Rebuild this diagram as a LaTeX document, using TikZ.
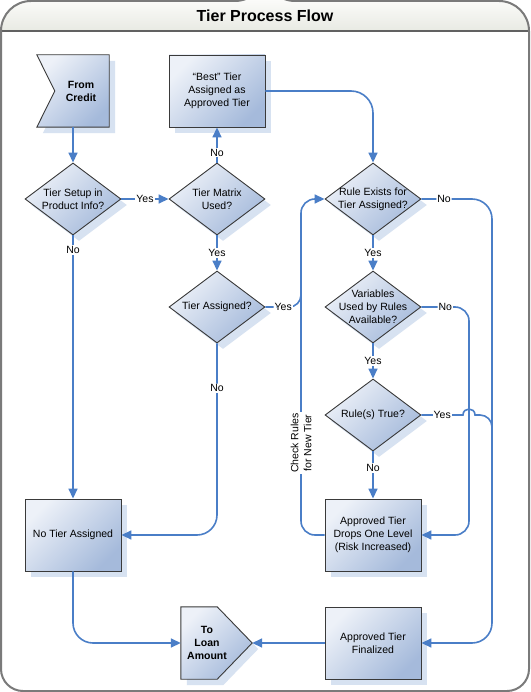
\documentclass[tikz,border=0pt]{standalone}
\usepackage{fontspec}
\setmainfont{Liberation Sans}
\usetikzlibrary{calc,shapes.geometric,shadows,arrows.meta}
\definecolor{flowline}{HTML}{4A7EC7}
\definecolor{boxlight}{HTML}{EDF1F8}
\definecolor{boxdark}{HTML}{A5BADB}
\definecolor{boxshadow}{HTML}{D7E2F1}
\definecolor{boxedge}{HTML}{3A3A3A}
\definecolor{framegray}{HTML}{7A7A7A}
\definecolor{headlight}{HTML}{FBFBF9}
\definecolor{headdark}{HTML}{E8EAE3}
\newcommand{\tierfont}{\fontsize{10.5}{13}\selectfont}
\tikzset{
 tierfill/.style={draw=boxedge, line width=0.9pt, top color=boxlight, bottom color=boxdark, shading angle=45,
  drop shadow={shadow xshift=6pt, shadow yshift=-6pt, fill=boxshadow, opacity=1}},
 tierbox/.style={tierfill, rectangle, minimum width=96pt, minimum height=72pt, inner sep=0pt, align=center, font=\tierfont},
 tierdiamond/.style={tierfill, diamond, minimum width=96pt, minimum height=72pt, inner sep=0pt},
 tierhole/.style={rectangle, minimum height=72pt, inner sep=0pt},
 tiertext/.style={align=center, font=\tierfont, inner sep=0pt},
 tierbold/.style={align=center, font=\tierfont\bfseries, inner sep=0pt},
 flow/.style={draw=flowline, line width=1.6pt, -{Triangle[length=10pt,width=9pt]}},
 flowplain/.style={draw=flowline, line width=1.6pt},
 answer/.style={fill=white, inner sep=1pt, align=center, font=\tierfont}
}
\newcommand{\processBlock}[3]{
    \node[tierbox] (#1) at #2 {#3};
}
\newcommand{\decisionBlock}[3]{
    \node[tierdiamond, label={[tiertext]center:{#3}}] (#1) at #2 {};
}

\begin{document}
\begin{tikzpicture}[x=1pt, y=-1pt]
    \useasboundingbox (0,0) rectangle (530,692);
    \begin{scope}
        \clip (265,1) [rounded corners=30] -| (529,200) [rounded corners=22] |- (265,691)
            -| (1,200) [rounded corners=30] |- (265,1) -- cycle;
        \fill[white] (0,0) rectangle (530,692);
        \shade[top color=headlight, bottom color=headdark] (0,0) rectangle (530,31);
    \end{scope}
    \draw[boxedge!80, line width=1.2pt] (1,31) -- (529,31);
    \draw[framegray, line width=2pt] (265,1) [rounded corners=30] -| (529,200) [rounded corners=22] |- (265,691)
        -| (1,200) [rounded corners=30] |- (265,1) -- cycle;
    \node[font=\fontsize{16}{18}\selectfont\bfseries] (title) at (265,16) {Tier Process Flow};

    \coordinate (recheck) at (301,199);
    \coordinate (varsLane) at (469,0);
    \coordinate (finalLane) at (492,0);

    \node[tierhole, minimum width=72pt] (credit) at (73,91) {};
    \path[tierfill] (credit.north west) -- (credit.north east) -- (credit.south east)
        -- (credit.south west) -- ($(credit.west)+(18,0)$) -- cycle;
    \node[tierbold] (creditText) at ($(credit)+(8,0)$) {From\\Credit};

    \node[tierhole, minimum width=71pt] (toloan) at (216.5,643) {};
    \path[tierfill] (toloan.north west) -- ($(toloan.north east)+(-35,0)$) -- (toloan.east)
        -- ($(toloan.south east)+(-35,0)$) -- (toloan.south west) -- cycle;
    \node[tierbold] (toloanText) at (207,643) {To\\Loan\\Amount};

    \processBlock{best}{(217,91)}{“Best” Tier\\Assigned as\\Approved Tier}
    \processBlock{notier}{(73,535)}{No Tier Assigned}
    \processBlock{drops}{(373,535)}{Approved Tier\\Drops One Level\\(Risk Increased)}
    \processBlock{final}{(373,643)}{Approved Tier\\Finalized}

    \decisionBlock{setup}{(73,199)}{Tier Setup in\\Product Info?}
    \decisionBlock{matrix}{(217,199)}{Tier Matrix\\Used?}
    \decisionBlock{tassigned}{(217,307)}{Tier Assigned?}
    \decisionBlock{rexists}{(373,199)}{Rule Exists for\\Tier Assigned?}
    \decisionBlock{vars}{(373,307)}{Variables\\Used by Rules\\Available?}
    \decisionBlock{rtrue}{(373,415)}{Rule(s) True?}

    \draw[flow] (credit.south) -- (setup.north);
    \draw[flow] (setup.east) -- node[answer]{Yes} (matrix.west);
    \draw[flow] (matrix.north) -- node[answer, pos=0.28]{No} (best.south);
    \draw[flow] (setup.south) -- node[answer, pos=0.055]{No} (notier.north);
    \draw[flow] (matrix.south) -- node[answer]{Yes} (tassigned.north);
    \draw[flow, rounded corners=20] (tassigned.south) |- node[answer, pos=0.117]{No} (notier.east);
    \draw[flowplain, rounded corners=12] (tassigned.east) -| node[answer, pos=0.25]{Yes} ($(recheck)+(0,80)$);
    \draw[flow, rounded corners=14] (drops.west) -| (recheck) -- (rexists.west);
    \node[answer, rotate=90] (checkLabel) at (301,443) {Check Rules\\for New Tier};
    \draw[flow, rounded corners=22] (best.east) -| (rexists.north);
    \draw[flow] (rexists.south) -- node[answer]{Yes} (vars.north);
    \draw[flow] (vars.south) -- node[answer]{Yes} (rtrue.north);
    \draw[flow] (rtrue.south) -- node[answer, pos=0.35]{No} (drops.north);
    \draw[flow, rounded corners=14] (vars.east) -- node[answer]{No} (vars.east -| varsLane) |- (drops.east);
    \draw[flow, rounded corners=20] (rexists.east) -- node[answer, pos=0.32]{No} (rexists.east -| finalLane) |- (final.east);
    \coordinate (hop) at (rtrue.east -| varsLane);
    \draw[flowplain] (rtrue.east) -- node[answer]{Yes} ($(hop)+(-6,0)$)
        .. controls ($(hop)+(-6,-8)$) and ($(hop)+(6,-8)$) .. ($(hop)+(6,0)$)
        [rounded corners=12] -- (rtrue.east -| finalLane) -- ++(0,40);
    \draw[flow, rounded corners=20] (notier.south) |- (toloan.west);
    \draw[flow] (final.west) -- (toloan.east);
\end{tikzpicture}
\end{document}
